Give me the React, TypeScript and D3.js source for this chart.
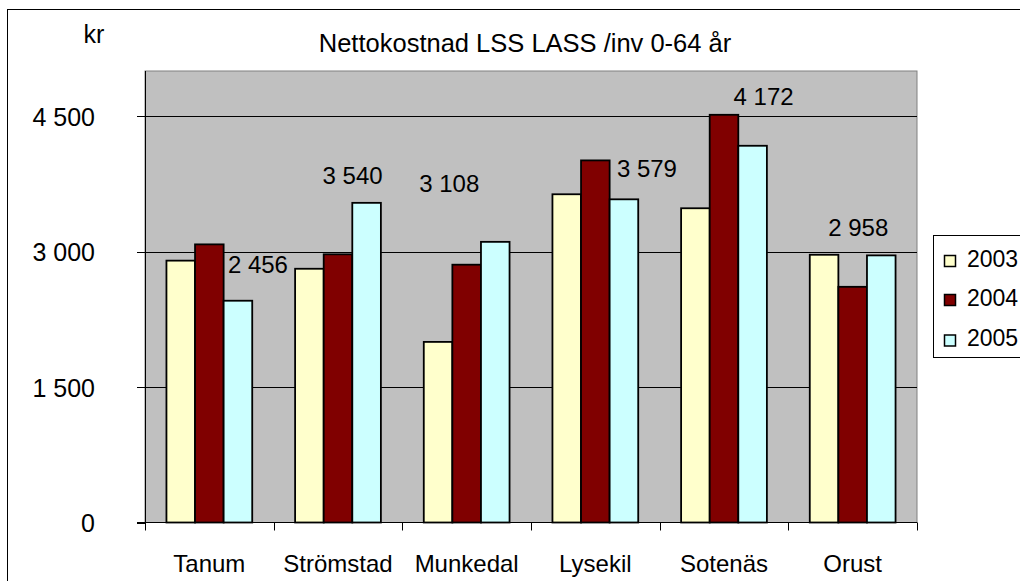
import React from 'react';
import * as d3 from 'd3';

const categories = ['Tanum', 'Strömstad', 'Munkedal', 'Lysekil', 'Sotenäs', 'Orust'];
const seriesNames = ['2003', '2004', '2005'];
const values2003 = [2900, 2810, 2000, 3635, 3480, 2965];
const values2004 = [3080, 2970, 2855, 4010, 4515, 2610];
const values2005 = [2456, 3540, 3108, 3579, 4172, 2958];
const yTicks = [0, 1500, 3000, 4500];

// manual label placement (px) relative to the 2005 bar, like the original
const labelNudge = [
  { dx: 20, dy: -36 },
  { dx: -14, dy: -27 },
  { dx: -46, dy: -58 },
  { dx: 23, dy: -31 },
  { dx: 11, dy: -49 },
  { dx: -23, dy: -28 },
];

const colors = ['#FFFFCC', '#800000', '#CCFFFF'];
const font = '"Liberation Sans", Arial, sans-serif';
const fmt = (v: number) => d3.format(',')(v).replace(/,/g, ' ');

const App: React.FC = () => {
  const series = [values2003, values2004, values2005];
  const plot = { left: 145, right: 917, top: 71, bottom: 522.5 };

  const x = d3.scaleBand<string>().domain(categories).range([plot.left, plot.right]).padding(0);
  const cw = x.bandwidth();
  const barW = cw / 4.5;
  const xs = d3
    .scaleBand<string>()
    .domain(seriesNames)
    .range([barW * 0.75, cw - barW * 0.75])
    .padding(0);
  const y = d3.scaleLinear().domain([0, 5000]).range([plot.bottom, plot.top]);

  const legendBase = [266.5, 305.5, 346];

  return (
    <svg
      width={1020}
      height={581}
      style={{ position: 'absolute', left: 0, top: 0, background: '#fff' }}
      fontFamily={font}
    >
      <rect x={7.5} y={9.5} width={1100} height={700} fill="#fff" stroke="#000" />
      <text x={94} y={43} fontSize={25} textAnchor="middle">kr</text>
      <text x={525} y={52} fontSize={25.5} textAnchor="middle">
        Nettokostnad LSS LASS /inv 0-64 år
      </text>

      <rect
        x={plot.left}
        y={plot.top}
        width={plot.right - plot.left}
        height={plot.bottom - plot.top}
        fill="#C0C0C0"
        stroke="#808080"
      />
      {yTicks
        .filter(t => t > 0)
        .map(t => (
          <line key={t} x1={plot.left} x2={plot.right} y1={Math.round(y(t)) + 0.5} y2={Math.round(y(t)) + 0.5} stroke="#000" />
        ))}

      {categories.map((c, i) =>
        series.map((s, j) => (
          <rect
            key={c + j}
            x={(x(c) || 0) + (xs(seriesNames[j]) || 0)}
            y={y(s[i])}
            width={xs.bandwidth()}
            height={plot.bottom - y(s[i])}
            fill={colors[j]}
            stroke="#000"
            strokeWidth={1.8}
          />
        ))
      )}

      {/* axes */}
      <line x1={plot.left + 0.5} x2={plot.left + 0.5} y1={plot.top} y2={plot.bottom} stroke="#000" />
      <line x1={plot.left - 8} x2={plot.right} y1={plot.bottom} y2={plot.bottom} stroke="#000" />
      {yTicks.map(t => (
        <g key={t}>
          <line x1={plot.left - 8} x2={plot.left} y1={Math.round(y(t)) + 0.5} y2={Math.round(y(t)) + 0.5} stroke="#000" />
          <text x={95} y={y(t) + 9.5} fontSize={25} textAnchor="end">{fmt(t)}</text>
        </g>
      ))}
      {[...categories.map(c => x(c) || 0), plot.right].map((px, i) => (
        <line key={i} x1={Math.round(px) + 0.5} x2={Math.round(px) + 0.5} y1={plot.bottom} y2={plot.bottom + 8} stroke="#000" />
      ))}
      {categories.map(c => (
        <text key={c} x={(x(c) || 0) + cw / 2} y={572} fontSize={24} textAnchor="middle">{c}</text>
      ))}

      {/* data labels for 2005 */}
      {categories.map((c, i) => (
        <text
          key={'l' + c}
          x={(x(c) || 0) + (xs('2005') || 0) + xs.bandwidth() / 2 + labelNudge[i].dx}
          y={y(values2005[i]) + labelNudge[i].dy + 8.5}
          fontSize={24}
          textAnchor="middle"
        >
          {fmt(values2005[i])}
        </text>
      ))}

      {/* legend */}
      <rect x={933.5} y={235.5} width={120} height={122} fill="#fff" stroke="#000" />
      {seriesNames.map((n, j) => (
        <g key={n}>
          <rect x={944.5} y={legendBase[j] - 11} width={11} height={11} fill={colors[j]} stroke="#000" strokeWidth={1.5} />
          <text x={967} y={legendBase[j]} fontSize={23}>{n}</text>
        </g>
      ))}
    </svg>
  );
};

export default App;
